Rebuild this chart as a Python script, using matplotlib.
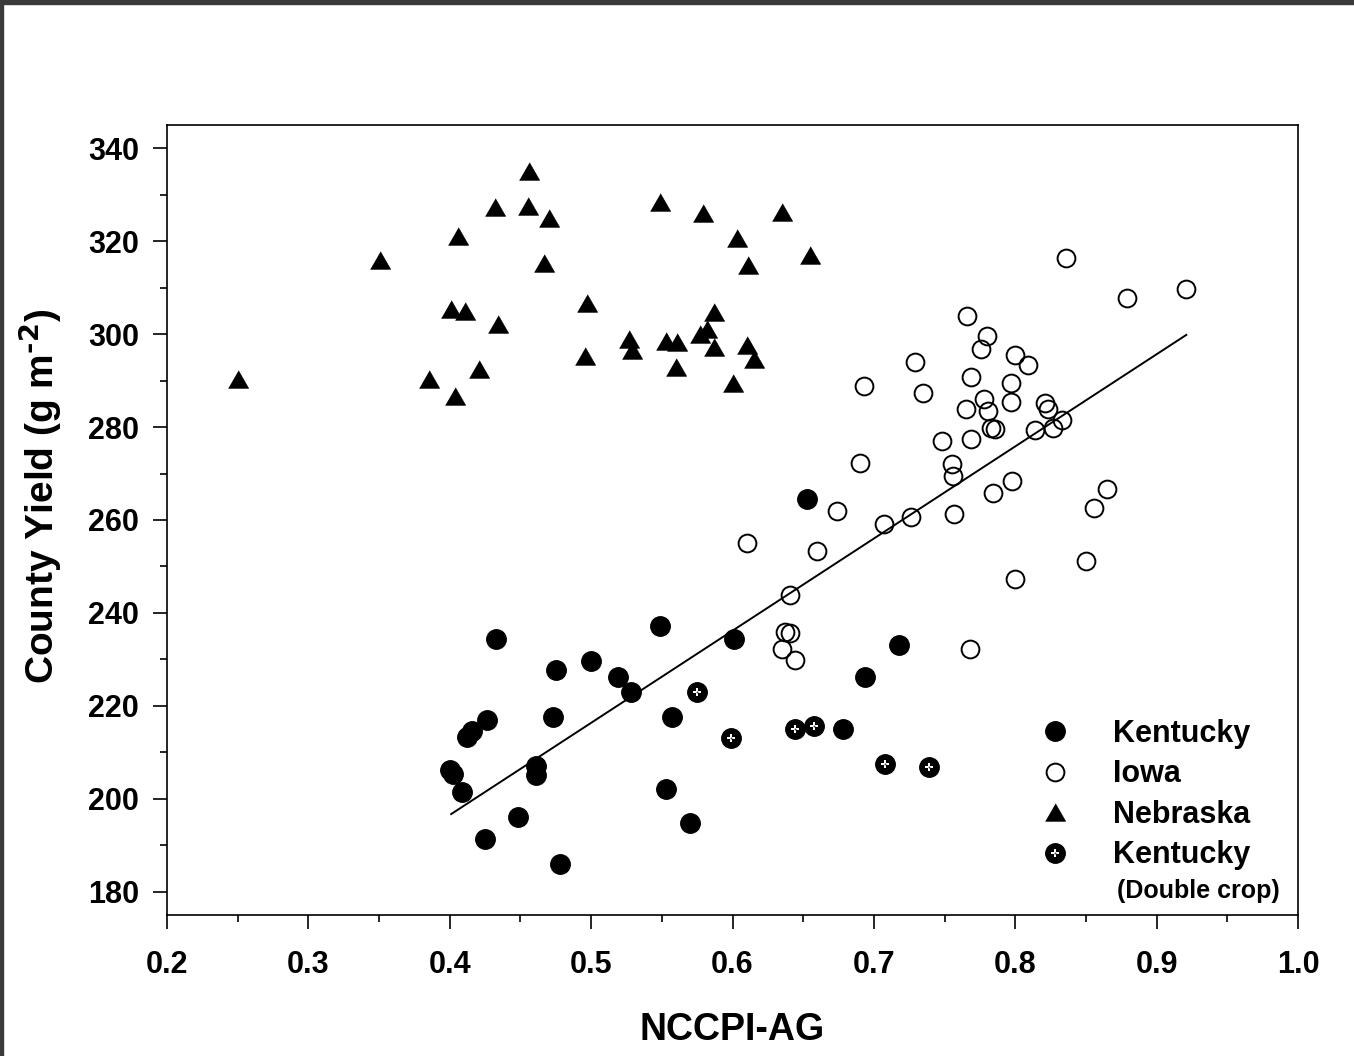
import matplotlib
matplotlib.use("Agg")
import matplotlib.pyplot as plt
from matplotlib.patches import Rectangle
from matplotlib.ticker import MultipleLocator, FormatStrFormatter
import numpy as np

plt.rcParams['font.family'] = ['Liberation Sans', 'DejaVu Sans']
plt.rcParams['font.weight'] = 'bold'
plt.rcParams['mathtext.default'] = 'bf'
plt.rcParams['axes.unicode_minus'] = False

# Kentucky (single crop)
ky_x = [0.433, 0.549, 0.475, 0.500, 0.519, 0.528, 0.601, 0.426, 0.412, 0.416,
        0.473, 0.557, 0.400, 0.402, 0.409, 0.461, 0.461, 0.553, 0.448, 0.425,
        0.570, 0.478, 0.653, 0.718, 0.694, 0.678]
ky_y = [234.3, 237.1, 227.7, 229.6, 226.3, 222.9, 234.3, 217.0, 213.3, 214.6,
        217.6, 217.6, 206.3, 205.4, 201.4, 207.0, 205.2, 202.1, 196.1, 191.3,
        194.8, 185.9, 264.6, 233.1, 226.3, 215.0]

# Iowa
ia_x = [0.729, 0.693, 0.735, 0.748, 0.755, 0.756, 0.690, 0.674, 0.757, 0.726,
        0.707, 0.610, 0.660, 0.641, 0.836, 0.921, 0.879, 0.766, 0.780, 0.776,
        0.800, 0.809, 0.769, 0.797, 0.797, 0.778, 0.765, 0.781, 0.783, 0.786,
        0.821, 0.823, 0.833, 0.827, 0.814, 0.769, 0.798, 0.784, 0.865, 0.856,
        0.850, 0.800, 0.637, 0.641, 0.635, 0.644, 0.768]
ia_y = [294.0, 288.9, 287.4, 277.1, 272.0, 269.5, 272.3, 261.9, 261.2, 260.6,
        259.2, 255.1, 253.3, 243.8, 316.3, 309.7, 307.8, 303.9, 299.6, 296.8,
        295.5, 293.3, 290.8, 289.5, 285.3, 286.0, 283.8, 283.4, 279.8, 279.5,
        285.1, 283.8, 281.5, 279.9, 279.4, 277.4, 268.4, 265.9, 266.7, 262.5,
        251.1, 247.2, 235.8, 235.6, 232.3, 229.8, 232.3]

# Nebraska
ne_x = [0.456, 0.432, 0.455, 0.470, 0.406, 0.351, 0.467, 0.401, 0.411, 0.434,
        0.421, 0.385, 0.250, 0.404, 0.549, 0.579, 0.635, 0.603, 0.611, 0.655,
        0.497, 0.496, 0.527, 0.529, 0.553, 0.561, 0.560, 0.587, 0.582, 0.577,
        0.587, 0.610, 0.615, 0.600]
ne_y = [335.0, 327.4, 327.6, 324.9, 321.2, 315.9, 315.2, 305.5, 305.0, 302.2,
        292.6, 290.4, 290.4, 286.7, 328.5, 326.1, 326.2, 320.6, 314.9, 317.0,
        306.6, 295.3, 298.9, 296.5, 298.6, 298.3, 293.0, 304.8, 301.2, 300.1,
        297.3, 297.6, 294.7, 289.5]

# Kentucky (double crop)
kd_x = [0.575, 0.599, 0.644, 0.658, 0.708, 0.739]
kd_y = [222.9, 213.0, 215.0, 215.6, 207.5, 206.8]

# regression line
fit_x = [0.401, 0.921]
fit_slope = 198.3
fit_intercept = 117.2

fig = plt.figure(figsize=(13.54, 10.56), dpi=100)
ax = fig.add_axes([167 / 1354, 1 - 915 / 1056, (1298 - 167) / 1354, (915 - 125) / 1056])

# dark frame of the screenshot
fig.patches.append(Rectangle((0, 1 - 4 / 1056), 1, 4 / 1056, transform=fig.transFigure,
                             color='#3a3a3a', zorder=10))
fig.patches.append(Rectangle((0, 0), 3 / 1354, 1, transform=fig.transFigure,
                             color='#3a3a3a', zorder=10))

fx = np.array(fit_x)
ax.plot(fx, fit_slope * fx + fit_intercept, color='black', lw=1.4, zorder=1)

tri = [(-1, -0.87), (1, -0.87), (0, 0.87)]
ky, = ax.plot(ky_x, ky_y, 'o', ms=14, mfc='black', mec='black', mew=1, ls='none', zorder=3)
ia, = ax.plot(ia_x, ia_y, 'o', ms=12.8, mfc='none', mec='black', mew=1.4, ls='none', zorder=2)
ne, = ax.plot(ne_x, ne_y, marker=tri, ms=14.5, mfc='black', mec='black', mew=0.5, ls='none', zorder=3)
kd1, = ax.plot(kd_x, kd_y, 'o', ms=14, mfc='black', mec='black', mew=1, ls='none', zorder=3)
kd2, = ax.plot(kd_x, kd_y, 'P', ms=6, mfc='white', mec='white', mew=0, ls='none', zorder=4)
kd3, = ax.plot(kd_x, kd_y, 'o', ms=1.4, mfc='#444444', mec='none', ls='none', zorder=5)

ax.set_xlim(0.2, 1.0)
ax.set_ylim(175, 345)
ax.xaxis.set_major_locator(MultipleLocator(0.1))
ax.xaxis.set_minor_locator(MultipleLocator(0.05))
ax.xaxis.set_major_formatter(FormatStrFormatter('%.1f'))
ax.yaxis.set_major_locator(MultipleLocator(20))
ax.yaxis.set_minor_locator(MultipleLocator(10))
ax.tick_params(which='major', direction='out', length=10, width=1.2, labelsize=22)
ax.tick_params(which='minor', direction='out', length=5, width=1.2)
ax.tick_params(axis='x', which='major', pad=15)
ax.tick_params(axis='y', which='major', pad=10)
for s in ax.spines.values():
    s.set_linewidth(1.2)

ax.set_xlabel('NCCPI-AG', fontsize=27, fontweight='bold')
ax.xaxis.set_label_coords(0.5, -0.146)
ax.xaxis.label.set_va('center')
ax.set_ylabel('County Yield (g m$^{\\text{-2}}$)', fontsize=28, fontweight='bold')
ax.yaxis.set_label_coords(-0.112, 0.53)
ax.yaxis.label.set_va('center')

leg = ax.legend([ky, ia, ne, (kd1, kd2, kd3)], ['Kentucky', 'Iowa', 'Nebraska', 'Kentucky'],
                loc='upper left', bbox_to_anchor=(0.772, 0.248), borderaxespad=0, borderpad=0,
                frameon=False, handlelength=1.0, handletextpad=1.37,
                labelspacing=0.34, prop={'weight': 'bold', 'size': 22})
ax.text(0.840, 0.030, '(Double crop)', transform=ax.transAxes, fontsize=18,
        fontweight='bold', ha='left', va='center')

fig.savefig('out.png', dpi=100)
